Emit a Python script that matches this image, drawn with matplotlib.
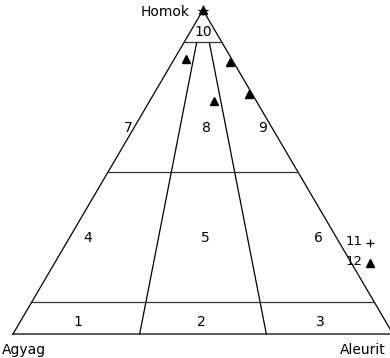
"""
Homok - Agyag - Aleurit háromszögdiagram a mintapontokkal.
"""

import numpy as np
import matplotlib.pyplot as plt

# 12. minták (homok, aleurit, agyag) %-ban
homok = [100, 85, 84, 72, 74]
aleurit = [0, 3, 15, 17, 25]
agyag = [0, 12, 1, 11, 1]

# 11. minta
homok_11 = [100]
aleurit_11 = [0]
agyag_11 = [0]

# osztályhatárok
homok_hatarok = [90, 50, 10]          # vízszintes vonalak
aleurit_arany = [1 / 3, 2 / 3]        # aleurit / (aleurit + agyag)

mezo_nevek = ["1", "2", "3", "4", "5", "6", "7", "8", "9", "10"]

H = np.sqrt(3) / 2


def to_xy(s, si, c):
    """Ternary (homok, aleurit, agyag) -> síkbeli koordináták."""
    s, si, c = (np.asarray(v, dtype=float) for v in (s, si, c))
    tot = s + si + c
    s, si = s / tot, si / tot
    return si + s / 2, s * H


fig = plt.figure(figsize=(3.9, 3.58), dpi=100)
ax = fig.add_axes([0, 0, 1, 1])
ax.set_xlim(-13 / 380, 377 / 380)
ax.set_ylim(-24 / 374, 334 / 374)
ax.axis("off")

lw = 0.9
# háromszög
cx, cy = to_xy([0, 0, 100, 0], [0, 100, 0, 0], [100, 0, 0, 100])
ax.plot(cx, cy, color="black", lw=lw)

# vízszintes határok
for h in homok_hatarok:
    x, y = to_xy([h, h], [0, 100 - h], [100 - h, 0])
    ax.plot(x, y, color="#333333", lw=lw)

# sugárirányú határok (90%-os homokvonaltól az alapig)
for r in aleurit_arany:
    x, y = to_xy([90, 0], [10 * r, 100 * r], [10 * (1 - r), 100 * (1 - r)])
    ax.plot(x, y, color="black", lw=lw)

# mezők számai
mezo_pos = [(0.171, 0.032), (0.497, 0.032), (0.808, 0.032),
            (0.197, 0.257), (0.505, 0.257), (0.803, 0.257),
            (0.303, 0.551), (0.508, 0.551), (0.658, 0.551),
            (0.5, 0.807)]
for nev, (x, y) in zip(mezo_nevek, mezo_pos):
    ax.text(x, y, nev, ha="center", va="center", fontsize=10)

# csúcsok feliratai
ax.text(0.466, 0.861, "Homok", ha="right", va="center", fontsize=10)
ax.text(-0.028, -0.043, "Agyag", ha="left", va="center", fontsize=10)
ax.text(0.86, -0.043, "Aleurit", ha="left", va="center", fontsize=10)

# mintapontok
px, py = to_xy(homok, aleurit, agyag)
ax.plot(px, py, "^", color="black", markersize=5.5, clip_on=False)
px, py = to_xy(homok_11, aleurit_11, agyag_11)
ax.plot(px, py, "+", color="black", markersize=7, mew=0.9, clip_on=False)

# jelmagyarázat
ax.text(0.897, 0.246, "11", ha="center", va="center", fontsize=9.5)
ax.plot([0.939], [0.244], "+", color="black", markersize=6, mew=0.9)
ax.text(0.897, 0.193, "12", ha="center", va="center", fontsize=9.5)
ax.plot([0.939], [0.191], "^", color="black", markersize=5.5)

fig.savefig("out.png", dpi=100)
